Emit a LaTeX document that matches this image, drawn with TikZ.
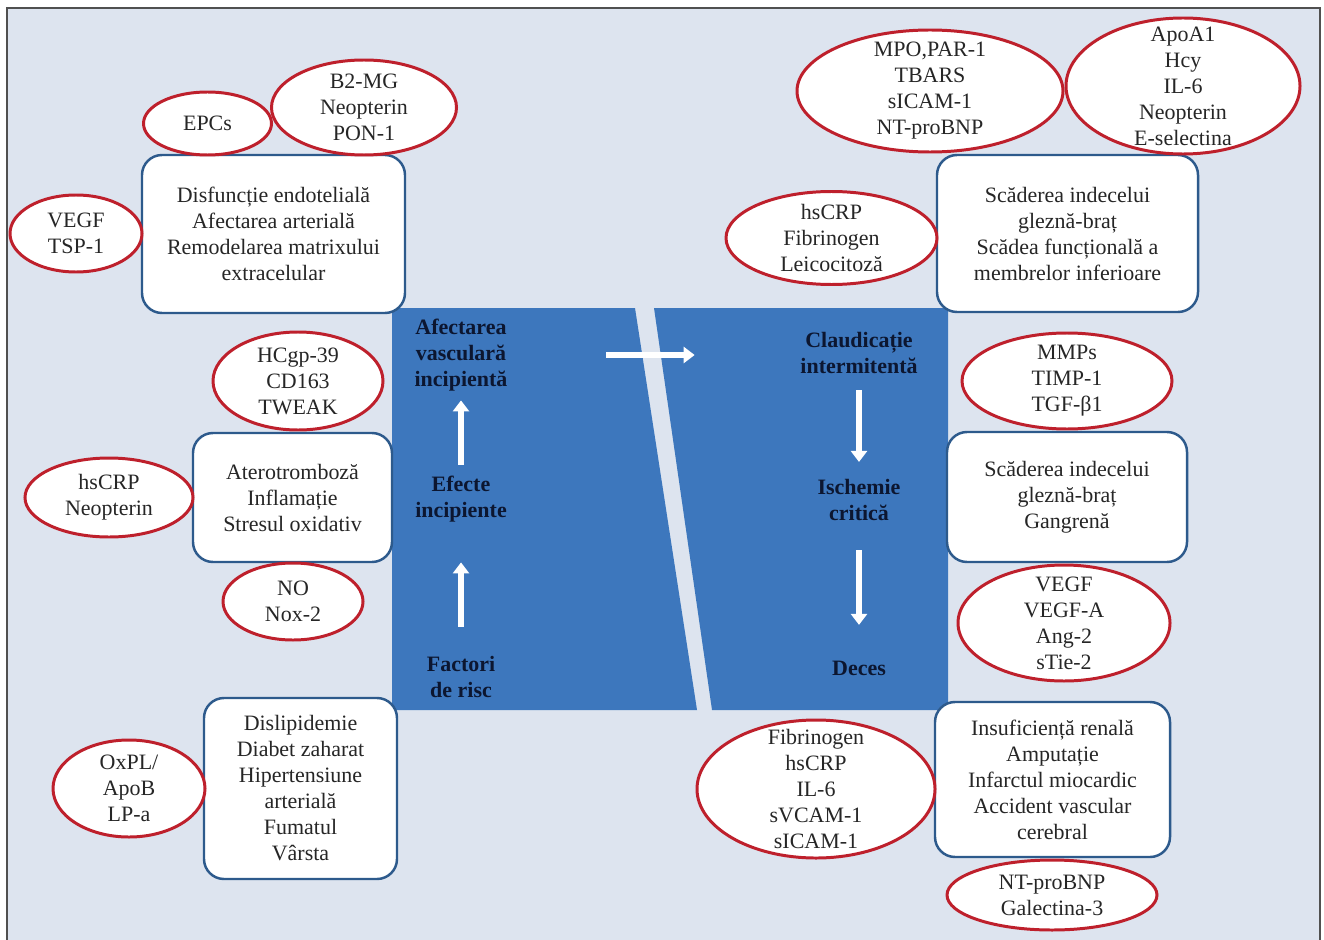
\documentclass[tikz,border=0pt]{standalone}
\usepackage{fontspec}
\setmainfont{Liberation Serif}
\usetikzlibrary{arrows.meta}
\usetikzlibrary{shapes.geometric, math}
\definecolor{pblue}{RGB}{61,119,189}
\definecolor{bblue}{RGB}{45,90,140}
\definecolor{mred}{RGB}{190,32,44}
\definecolor{bgblue}{RGB}{221,228,239}
\definecolor{tnavy}{RGB}{12,22,48}
\definecolor{fgray}{RGB}{80,80,80}

\begin{document}
\begin{tikzpicture}[x=0.02cm, y=-0.02cm,
  txt/.style={font=\fontsize{12.5}{14.8}\selectfont, text=black!85, align=center},
  stage/.style={txt, font=\fontsize{12.5}{14.8}\selectfont\bfseries, text=tnavy, inner sep=0pt},
  ebox/.style={txt, draw=bblue, line width=1.4pt, fill=white, rounded corners=0.4cm, inner sep=0pt},
  marker/.style={txt, ellipse, draw=mred, line width=1.7pt, fill=white, inner xsep=1pt, inner ysep=-40pt},
  warrow/.style={white, line width=3.4pt, -{Triangle[length=0.22cm,width=0.32cm]}}]
\tikzmath{
\px=0.02;
}

\useasboundingbox (0,0) rectangle (1324,939);

%frame:
 \fill[bgblue] (7,8) rectangle (1320,945);
 \draw[fgray, line width=1.1pt] (7,945) -- (7,8) -- (1320,8) -- (1320,945);

%panels:
 \fill[pblue] (392,308) -- (635,308) -- (697,710) -- (392,710) -- cycle;
 \fill[pblue] (654,308) -- (948,308) -- (948,710) -- (712,710) -- cycle;

 \node[stage] (afect) at (461,355) {Afectarea\\vasculară\\incipientă};
 \node[stage] (efect) at (461,499.5) {Efecte\\incipiente};
 \node[stage] (factori) at (461,677) {Factori\\de risc};
 \node[stage] (claud) at (859,353) {Claudicație\\intermitentă};
 \node[stage] (ischem) at (859,500) {Ischemie\\critică};
 \node[stage] (deces) at (859,668) {Deces};

 \draw[warrow, shorten <=0.23cm, shorten >=0.18cm] (efect) -- (afect);
 \draw[warrow, shorten <=0.58cm, shorten >=0.79cm] (factori) -- (efect);
 \draw[warrow, shorten <=0.32cm, shorten >=0.34cm] (claud) -- (ischem);
 \draw[warrow, shorten <=0.58cm, shorten >=0.71cm] (ischem) -- (deces);
 \draw[warrow, shorten <=1.97cm, shorten >=2.11cm] (afect.east) -- (claud.west |- afect.east);

%boxes
 \foreach \nm/\x/\y/\w/\h/\lbl in {
  dysf/273.5/234/263/158/{Disfuncție endotelială\\Afectarea arterială\\Remodelarea matrixului\\extracelular},
  athero/292.5/497.5/199/129/{Aterotromboză\\Inflamație\\Stresul oxidativ},
  risk/300.5/788.5/193/181/{Dislipidemie\\Diabet zaharat\\Hipertensiune\\arterială\\Fumatul\\Vârsta},
  abi/1067.5/233.5/261/157/{Scăderea indecelui\\gleznă-braț\\Scădea funcțională a\\membrelor inferioare},
  gangr/1067/497/240/130/{Scăderea indecelui\\gleznă-braț\\Gangrenă},
  outc/1052.5/779.5/235/155/{Insuficiență renală\\Amputație\\Infarctul miocardic\\Accident vascular\\cerebral}}{
  \node[ebox, minimum width=\w*\px*1cm, minimum height=\h*\px*1cm] (\nm) at (\x,\y) {\lbl};
 }

%markers
 \foreach \nm/\x/\y/\rx/\ry/\lbl in {
  epc/207.5/123.5/64/31.5/{EPCs},
  b2mg/364/107.5/92.5/47.5/{B2-MG\\Neopterin\\PON-1},
  vegfl/76/233.5/66/38.5/{VEGF\\TSP-1},
  hcgp/298/381/85/49/{HCgp-39\\CD163\\TWEAK},
  crpl/109/497.5/84/39.5/{hsCRP\\Neopterin},
  nox/293/601.5/70/38.5/{NO\\Nox-2},
  oxpl/129/788.5/76/48.5/{OxPL/\\ApoB\\LP-a},
  mpo/930/91/133/61/{MPO,PAR-1\\TBARS\\sICAM-1\\NT-proBNP},
  apoa/1183/86/117/68/{ApoA1\\Hcy\\IL-6\\Neopterin\\E-selectina},
  crpr/831.5/238/105.5/46.5/{hsCRP\\Fibrinogen\\Leicocitoză},
  mmp/1067/381/105/48/{MMPs\\TIMP-1\\TGF-β1},
  vegfr/1064/623/106/58/{VEGF\\VEGF-A\\Ang-2\\sTie-2},
  fibr/816/789/119/69/{Fibrinogen\\hsCRP\\IL-6\\sVCAM-1\\sICAM-1},
  ntbnp/1052/895/105/35/{NT-proBNP\\Galectina-3}}{
  \node[marker, minimum width=2*\rx*\px*1cm, minimum height=2*\ry*\px*1cm] (\nm) at (\x,\y) {\lbl};
 }
\end{tikzpicture}
\end{document}
